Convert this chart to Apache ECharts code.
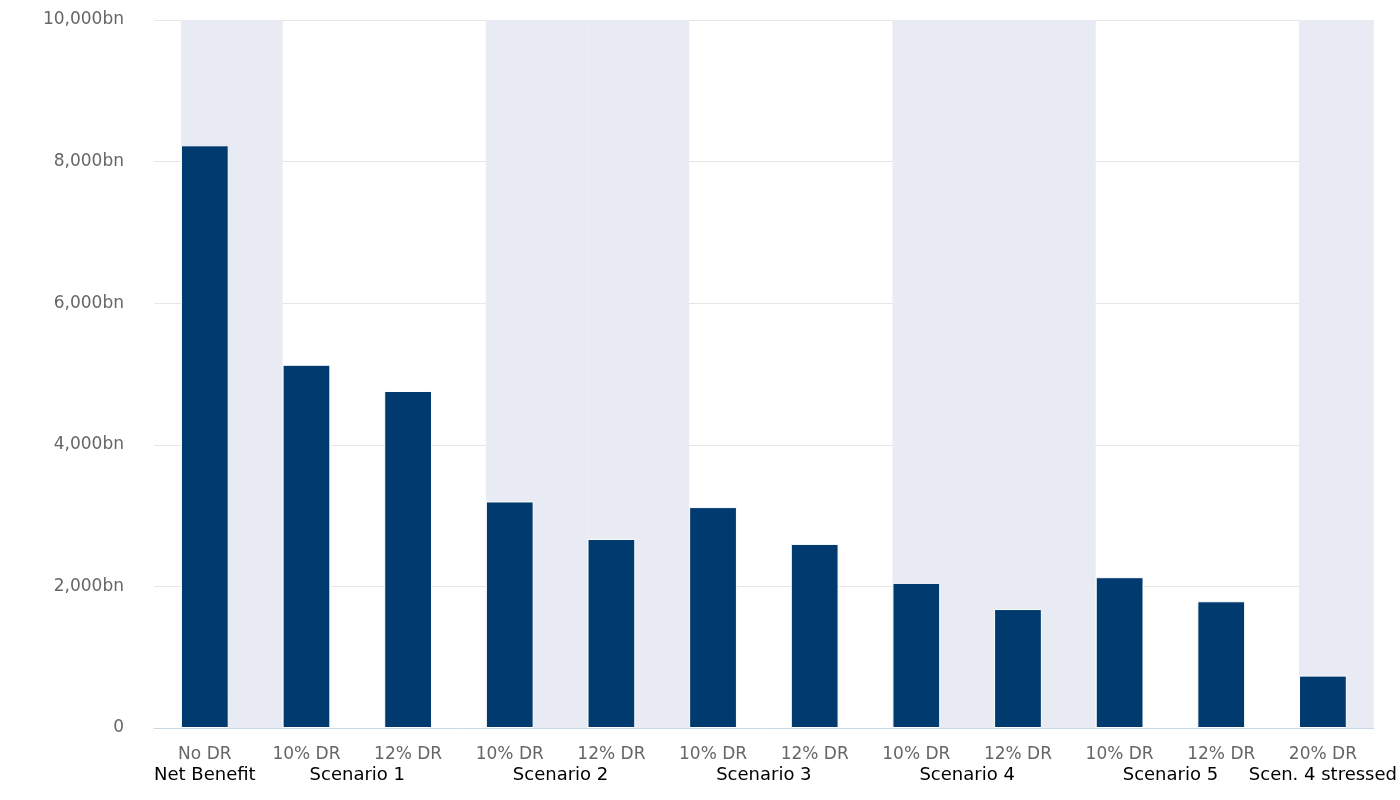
<!DOCTYPE html>
<html><head><meta charset="utf-8">
<script src="https://cdn.jsdelivr.net/npm/echarts@6/dist/echarts.min.js"></script>
<style>html,body{margin:0;padding:0;background:#fff}#c{width:1400px;height:800px}</style>
</head><body><div id="c"></div>
<script>
const categories = ['No DR','10% DR','12% DR','10% DR','12% DR','10% DR','12% DR','10% DR','12% DR','10% DR','12% DR','20% DR'];
const values = [8230,5130,4760,3200,2670,3120,2600,2050,1680,2130,1790,740];
const shaded = [1,0,0,1,1,0,0,1,1,0,0,1];
const groupLabels = {0.5:'Net Benefit',2:'Scenario 1',4:'Scenario 2',6:'Scenario 3',8:'Scenario 4',10:'Scenario 5',11.5:'Scen. 4 stressed'};
const yTicks = {min:0,max:10000,interval:2000};

const chart = echarts.init(document.getElementById('c'));
chart.setOption({
  animation:false,
  textStyle:{fontFamily:'DejaVu Sans'},
  grid:{left:154,right:20,top:20,bottom:72},
  xAxis:[{
    type:'category',data:categories,
    axisLine:{lineStyle:{color:'#ccd6eb'}},axisTick:{show:false},
    axisLabel:{color:'#666',fontSize:17,margin:18,interval:0}
  },{
    type:'value',position:'bottom',offset:30,min:0,max:12,interval:0.5,
    axisLine:{show:false},axisTick:{show:false},splitLine:{show:false},
    axisLabel:{color:'#000',fontSize:18,showMinLabel:true,showMaxLabel:true,
      formatter:v=>groupLabels[v]||''}
  }],
  yAxis:{
    type:'value',...yTicks,
    axisLabel:{color:'#666',fontSize:17,margin:30,formatter:v=>v.toLocaleString('en-US')+(v?'bn':'')},
    splitLine:{lineStyle:{color:'#e6e6e6'}},
    axisLine:{show:false},axisTick:{show:false}
  },
  series:[{
    type:'bar',data:shaded.map(s=>s?yTicks.max:0),barWidth:'100%',barGap:'-100%',
    itemStyle:{color:'#e8ebf4'},silent:true,z:1
  },{
    type:'bar',data:values,barWidth:'47%',barGap:'-100%',
    itemStyle:{color:'#003a6e',borderColor:'#fff',borderWidth:1},z:3
  }]
});
</script></body></html>
